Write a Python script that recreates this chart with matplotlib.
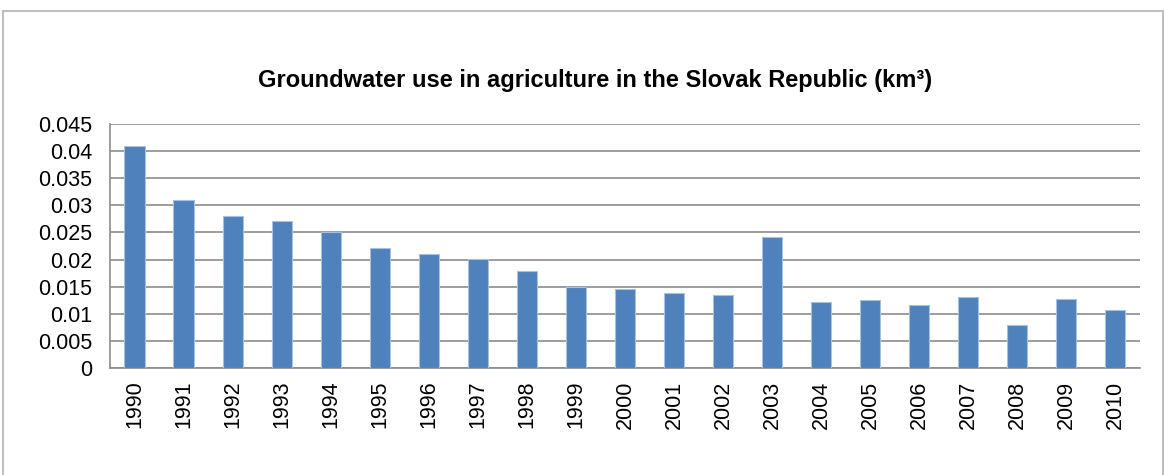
import matplotlib.pyplot as plt
from matplotlib.patches import Rectangle

years = [str(y) for y in range(1990, 2011)]
use_km3 = [0.0409, 0.0309, 0.0281, 0.0271, 0.0251, 0.0221, 0.0211, 0.0201, 0.0179,
           0.0150, 0.0146, 0.0139, 0.0134, 0.0241, 0.0121, 0.0126, 0.0116, 0.0131,
           0.0079, 0.0128, 0.0107]
y_ticks = [0, 0.005, 0.01, 0.015, 0.02, 0.025, 0.03, 0.035, 0.04, 0.045]
y_labels = ["0", "0.005", "0.01", "0.015", "0.02", "0.025", "0.03", "0.035", "0.04", "0.045"]

plt.rcParams['font.family'] = ['Liberation Sans', 'DejaVu Sans']


def main():
    fig = plt.figure(figsize=(11.65, 4.75), dpi=100)
    ax = fig.add_axes([0.0944, 0.2253, 0.8841, 0.5137])

    # outer chart border
    fig.patches.append(Rectangle((3 / 1165, -0.05), 1160 / 1165, 1.05 - 11 / 475,
                                 transform=fig.transFigure, fill=False,
                                 edgecolor='#bfbfbf', linewidth=1.5))

    x = range(len(years))
    ax.bar(x, use_km3, width=0.41, color='#4f81bd', edgecolor='#a9c0df',
           linewidth=0.8, zorder=3)

    ax.set_xlim(-0.5, len(years) - 0.5)
    ax.set_ylim(0, 0.045)
    ax.set_yticks(y_ticks)
    ax.set_yticklabels(y_labels)
    ax.set_xticks(list(x))
    ax.set_xticklabels(years, rotation=90)
    ax.tick_params(axis='both', length=0, labelsize=15.5, colors='black')
    ax.tick_params(axis='y', pad=13)
    ax.tick_params(axis='x', pad=9)

    ax.grid(axis='y', color='#8c8c8c', linewidth=1.2, zorder=0)
    for side in ['top', 'right']:
        ax.spines[side].set_visible(False)
    for side in ['left', 'bottom']:
        ax.spines[side].set_color('#8c8c8c')
        ax.spines[side].set_linewidth(1.2)

    fig.text(0.511, 1 - 80 / 475, "Groundwater use in agriculture in the Slovak Republic (km\u00b3)",
             ha='center', va='center', fontsize=17, fontweight='bold')

    fig.savefig("out.png", dpi=100)


if __name__ == "__main__":
    main()
